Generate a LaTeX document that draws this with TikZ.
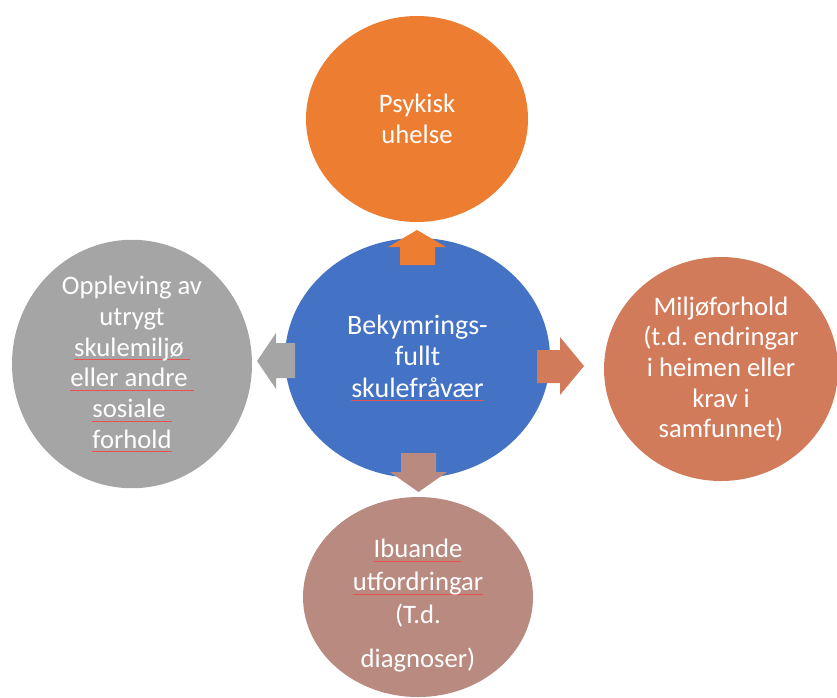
\documentclass[tikz,border=0pt]{standalone}
\usepackage{fontspec}
\setmainfont{Carlito}
\usetikzlibrary{shapes.geometric}
\definecolor{corange}{HTML}{ED7D31}
\definecolor{cblue}{HTML}{4472C4}
\definecolor{cgray}{HTML}{A5A5A5}
\definecolor{cbrick}{HTML}{D27B5B}
\definecolor{crose}{HTML}{B98A80}
\definecolor{cspell}{HTML}{E8534F}
\frenchspacing
\newsavebox{\splbox}
\newcommand\spl[1]{\sbox{\splbox}{#1}\rlap{\textcolor{cspell}{\rule[-0.3ex]{\wd\splbox}{0.5pt}}}\usebox{\splbox}}
\tikzset{
  bub/.style={ellipse, inner sep=0pt, text=white, align=center,
    font=\fontsize{20pt}{23pt}\selectfont},
  sz/.style 2 args={minimum width={#1*0.75pt}, minimum height={#2*0.75pt}},
  btext/.style={inner sep=0pt, text=white, align=center},
}
\begin{document}
\begin{tikzpicture}[x=0.75pt,y=-0.75pt]
\useasboundingbox (0,0) rectangle (837,697);
% circles
\node[bub, fill=corange, sz={222}{206}] (top) at (417,119) {Psykisk\\uhelse};
\node[bub, fill=cgray, sz={240}{222}] (left) at (132,364) {Oppleving av\\utrygt\\\spl{skulemiljø }\\\spl{eller andre }\\\spl{sosiale }\\\spl{forhold}};
\node[bub, fill=cbrick, sz={234}{224}] (right) at (721,369) {Miljøforhold\\(t.d. endringar\\i heimen eller\\krav i\\samfunnet)};
\node[bub, fill=crose, sz={230}{200}] (bot) at (418,597) {};
\node[btext, font=\fontsize{20pt}{24.5pt}\selectfont] (bottxt) at (418,606) {\spl{Ibuande}\\\spl{utfordringar}\\(T.d.\\[9pt]diagnoser)};
\node[bub, fill=cblue, sz={265}{240}, font=\fontsize{21pt}{23.5pt}\selectfont] (mid) at (417.5,358) {Bekymrings-\\fullt\\\spl{skulefråvær}};
% block arrows
\fill[corange] (400,265) -- (400,247) -- (388,247) -- (417,230) -- (446,247) -- (435,247) -- (435,265) -- cycle;
\fill[cbrick] (537,350) -- (560,350) -- (560,337) -- (584,366) -- (560,395) -- (560,383) -- (537,383) -- cycle;
\fill[cgray] (295,343) -- (276,343) -- (276,333) -- (257,361) -- (276,389) -- (276,378) -- (295,378) -- cycle;
\fill[crose] (401,453) -- (401,472) -- (390,472) -- (418.5,492) -- (447,472) -- (436,472) -- (436,453) -- cycle;
\end{tikzpicture}
\end{document}
